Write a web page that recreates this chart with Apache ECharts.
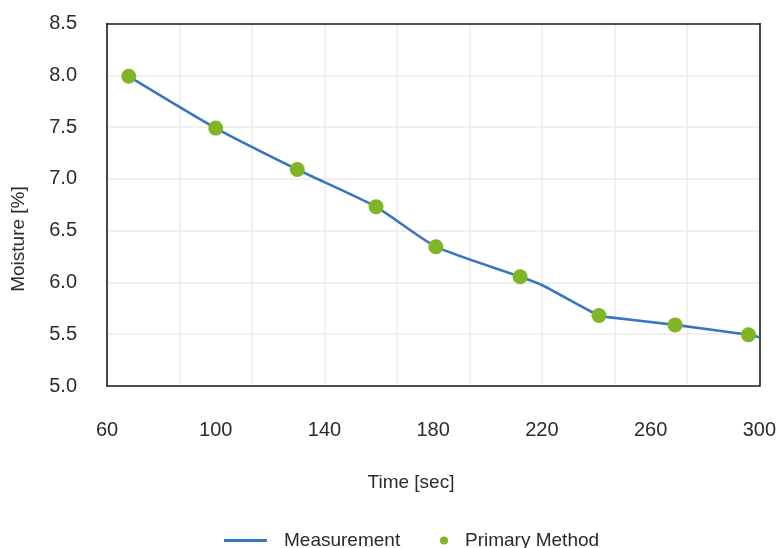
<!DOCTYPE html>
<html>
<head>
<meta charset="utf-8">
<script src="https://cdn.jsdelivr.net/npm/echarts@6/dist/echarts.min.js"></script>
<style>
html,body{margin:0;padding:0;background:#fff;}
#chart{width:779px;height:548px;}
</style>
</head>
<body>
<div id="chart"></div>
<script>
// Primary Method (reference points)
var primaryTime = [68, 100, 130, 159, 181, 212, 241, 269, 296];
var primaryMoisture = [7.99, 7.49, 7.09, 6.73, 6.345, 6.055, 5.68, 5.59, 5.495];
// Measurement (continuous line)
var measTime = [68, 100, 130, 159, 181, 212, 220, 241, 246, 269, 296, 300];
var measMoisture = [7.99, 7.49, 7.09, 6.73, 6.345, 6.055, 5.975, 5.68, 5.66, 5.59, 5.495, 5.47];
// Axes
var xMin = 60, xMax = 300, xLabelStep = 40, xGridCount = 9;
var yMin = 5.0, yMax = 8.5, yStep = 0.5;
var seriesNames = ['Measurement', 'Primary Method'];

var FONT = 'Liberation Sans, Arial, Helvetica, sans-serif';
var TXT = '#2b2b2b';
var BORDER = {show: true, onZero: false, lineStyle: {color: '#1c1c1c', width: 1.6}};

function zip(a, b) { return a.map(function (v, i) { return [v, b[i]]; }); }

var chart = echarts.init(document.getElementById('chart'), null, {renderer: 'canvas'});
chart.setOption({
  animation: false,
  backgroundColor: '#ffffff',
  textStyle: {fontFamily: FONT},
  grid: {left: 107, right: 18, top: 23.5, bottom: 162},
  xAxis: [{
    type: 'value', min: xMin, max: xMax, interval: xLabelStep, position: 'bottom',
    axisLine: BORDER, axisTick: {show: false},
    splitLine: {show: false},
    axisLabel: {margin: 34, color: TXT, fontSize: 20, fontFamily: FONT}
  }, {
    type: 'value', min: xMin, max: xMax, interval: (xMax - xMin) / xGridCount, position: 'top',
    axisLine: BORDER, axisTick: {show: false}, axisLabel: {show: false},
    splitLine: {show: true, lineStyle: {color: '#ebebeb', width: 1.5}}
  }],
  yAxis: [{
    type: 'value', min: yMin, max: yMax, interval: yStep, position: 'left',
    axisLine: BORDER, axisTick: {show: false},
    splitLine: {show: true, lineStyle: {color: '#ebebeb', width: 1.5}},
    axisLabel: {margin: 30, color: TXT, fontSize: 20, fontFamily: FONT,
      formatter: function (v) { return v.toFixed(1); }}
  }, {
    type: 'value', min: yMin, max: yMax, interval: yStep, position: 'right',
    axisLine: BORDER, axisTick: {show: false}, axisLabel: {show: false},
    splitLine: {show: false}
  }],
  legend: [{
    data: [seriesNames[0]], left: 219, top: 526,
    itemWidth: 43, itemHeight: 3, icon: 'rect',
    textStyle: {fontSize: 19, color: TXT, fontFamily: FONT, padding: [0, 0, 0, 12]}
  }, {
    data: [seriesNames[1]], left: 435, top: 526,
    itemWidth: 8, itemHeight: 8, icon: 'circle',
    textStyle: {fontSize: 19, color: TXT, fontFamily: FONT, padding: [0, 0, 0, 12]}
  }],
  graphic: [{
    type: 'text', x: 411, y: 483,
    style: {text: 'Time [sec]', font: '19px ' + FONT, fill: TXT, textAlign: 'center', textVerticalAlign: 'middle'}
  }, {
    type: 'text', x: 19, y: 239, rotation: Math.PI / 2,
    style: {text: 'Moisture [%]', font: '19px ' + FONT, fill: TXT, textAlign: 'center', textVerticalAlign: 'middle'}
  }],
  series: [{
    name: seriesNames[0], type: 'line', xAxisIndex: 0, yAxisIndex: 0,
    data: zip(measTime, measMoisture),
    showSymbol: false, symbol: 'none', smooth: 0.2,
    lineStyle: {color: '#3a76c0', width: 2.6},
    itemStyle: {color: '#3a76c0'}, z: 2
  }, {
    name: seriesNames[1], type: 'scatter', xAxisIndex: 0, yAxisIndex: 0,
    data: zip(primaryTime, primaryMoisture),
    symbolSize: 15,
    itemStyle: {color: '#7fb527', opacity: 1}, z: 3
  }]
});
</script>
</body>
</html>
